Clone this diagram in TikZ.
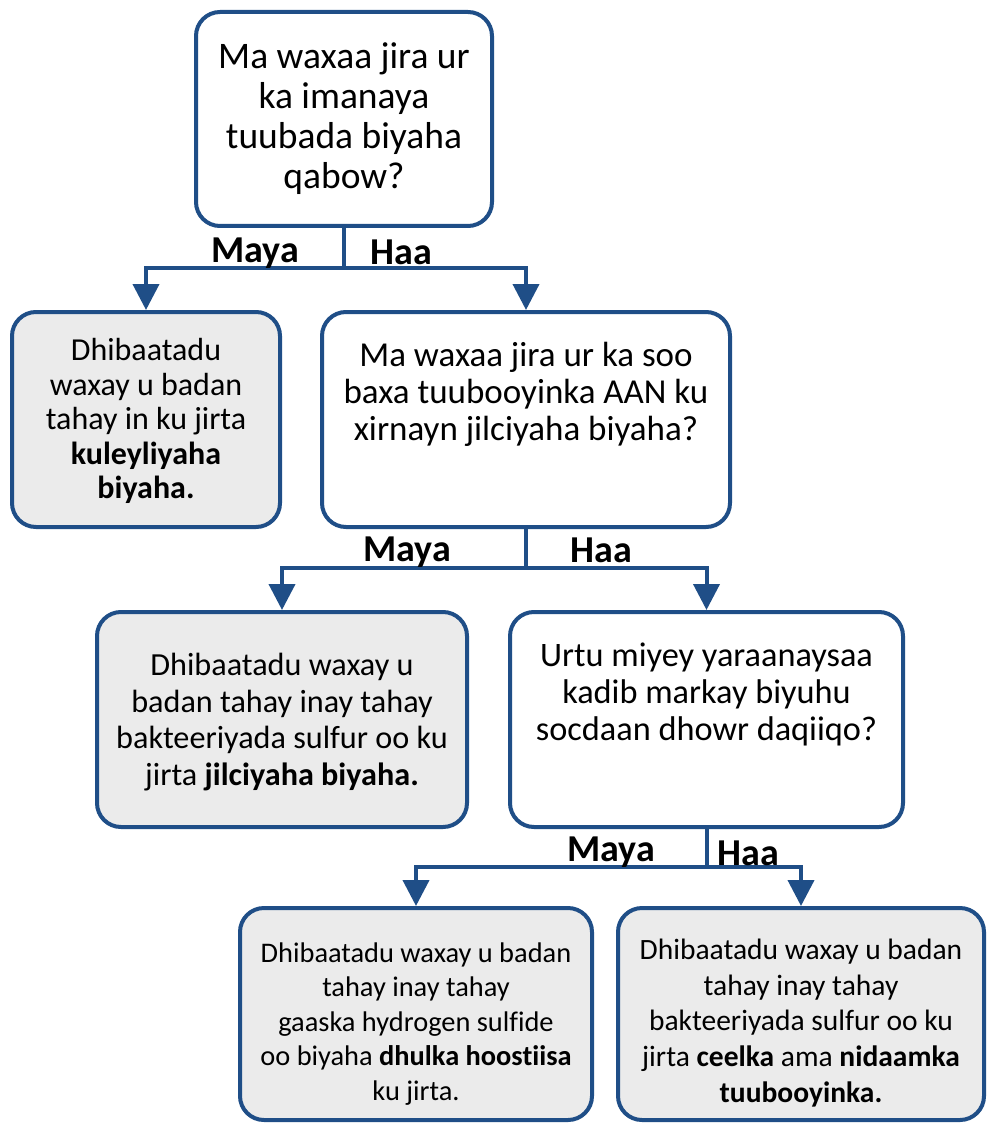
\documentclass[tikz,border=0pt]{standalone}
\usepackage{fontspec}
\setmainfont[Ligatures=NoCommon]{Carlito}
\usetikzlibrary{arrows.meta}
\definecolor{bordc}{HTML}{1F4E87}
\definecolor{grayf}{HTML}{EBEBEB}
\begin{document}
\begin{tikzpicture}[x=1pt,y=-1pt,
 box/.style={draw=bordc, line width=4pt, rounded corners=24pt, inner sep=0pt},
 qbox/.style={box, fill=white},
 abox/.style={box, fill=grayf},
 txt/.style={align=center, inner sep=0pt},
 link/.style={draw=bordc, line width=4pt},
 arr/.style={link, -{Triangle[width=26pt,length=26pt]}},
 lab/.style={font=\fontsize{38}{40}\selectfont\bfseries, inner sep=0pt}
]
\useasboundingbox (0,0) rectangle (987,1123);
% boxes
\node[qbox, minimum width=296pt, minimum height=214pt] (b1) at (344,119) {};
\node[abox, minimum width=268pt, minimum height=215pt] (b2) at (146,419.5) {};
\node[qbox, minimum width=408pt, minimum height=215pt] (b3) at (526,419.5) {};
\node[abox, minimum width=370pt, minimum height=215pt] (b4) at (282,719.5) {};
\node[qbox, minimum width=393pt, minimum height=215pt] (b5) at (706.5,719.5) {};
\node[abox, minimum width=352pt, minimum height=212pt] (b6) at (416,1014) {};
\node[abox, minimum width=366pt, minimum height=212pt] (b7) at (801,1014) {};
% texts
\node[txt, font=\fontsize{37.5}{40}\selectfont] (t1) at (344,119) {Ma waxaa jira ur\\ka imanaya\\tuubada biyaha\\qabow?};
\node[txt, font=\fontsize{32}{34.5}\selectfont] (t2) at (146,421) {Dhibaatadu\\waxay u badan\\tahay in ku jirta\\\textbf{kuleyliyaha}\\\textbf{biyaha.}};
\node[txt, font=\fontsize{35}{37}\selectfont] (t3) at (526,394) {Ma waxaa jira ur ka soo\\baxa tuubooyinka AAN ku\\xirnayn jilciyaha biyaha?};
\node[txt, font=\fontsize{32.2}{36.7}\selectfont] (t4) at (282,722) {Dhibaatadu waxay u\\badan tahay inay tahay\\bakteeriyada sulfur oo ku\\jirta \textbf{jilciyaha biyaha.}};
\node[txt, font=\fontsize{34.3}{37}\selectfont] (t5) at (706.5,694) {Urtu miyey yaraanaysaa\\kadib markay biyuhu\\socdaan dhowr daqiiqo?};
\node[txt, font=\fontsize{28.4}{34.5}\selectfont] (t6) at (416,1024) {Dhibaatadu waxay u badan\\tahay inay tahay\\gaaska hydrogen sulfide\\oo biyaha \textbf{dhulka hoostiisa}\\ku jirta.};
\node[txt, font=\fontsize{29.5}{35.7}\selectfont] (t7) at (801,1023) {Dhibaatadu waxay u badan\\tahay inay tahay\\bakteeriyada sulfur oo ku\\jirta \textbf{ceelka} ama \textbf{nidaamka}\\\textbf{tuubooyinka.}};
% junctions
\coordinate (j1) at (344,268);
\coordinate (j2) at (526,568);
\coordinate (j3) at (706.5,867);
\draw[link] (b1.south) -- (j1);
\draw[arr] (j1) -| (b2.north);
\draw[arr] (j1) -| (b3.north);
\draw[link] (b3.south) -- (j2);
\draw[arr] (j2) -| (b4.north);
\draw[arr] (j2) -| (b5.north);
\draw[link] (b5.south) -- (j3);
\draw[arr] (j3) -| (b6.north);
\draw[arr] (j3) -| (b7.north);
% labels
\node[lab] (m1) at (255,253) {Maya};
\node[lab] (h1) at (401,252) {Haa};
\node[lab] (m2) at (407,552) {Maya};
\node[lab] (h2) at (601,550) {Haa};
\node[lab] (m3) at (611,852) {Maya};
\node[lab] (h3) at (748,853) {Haa};
\end{tikzpicture}
\end{document}
